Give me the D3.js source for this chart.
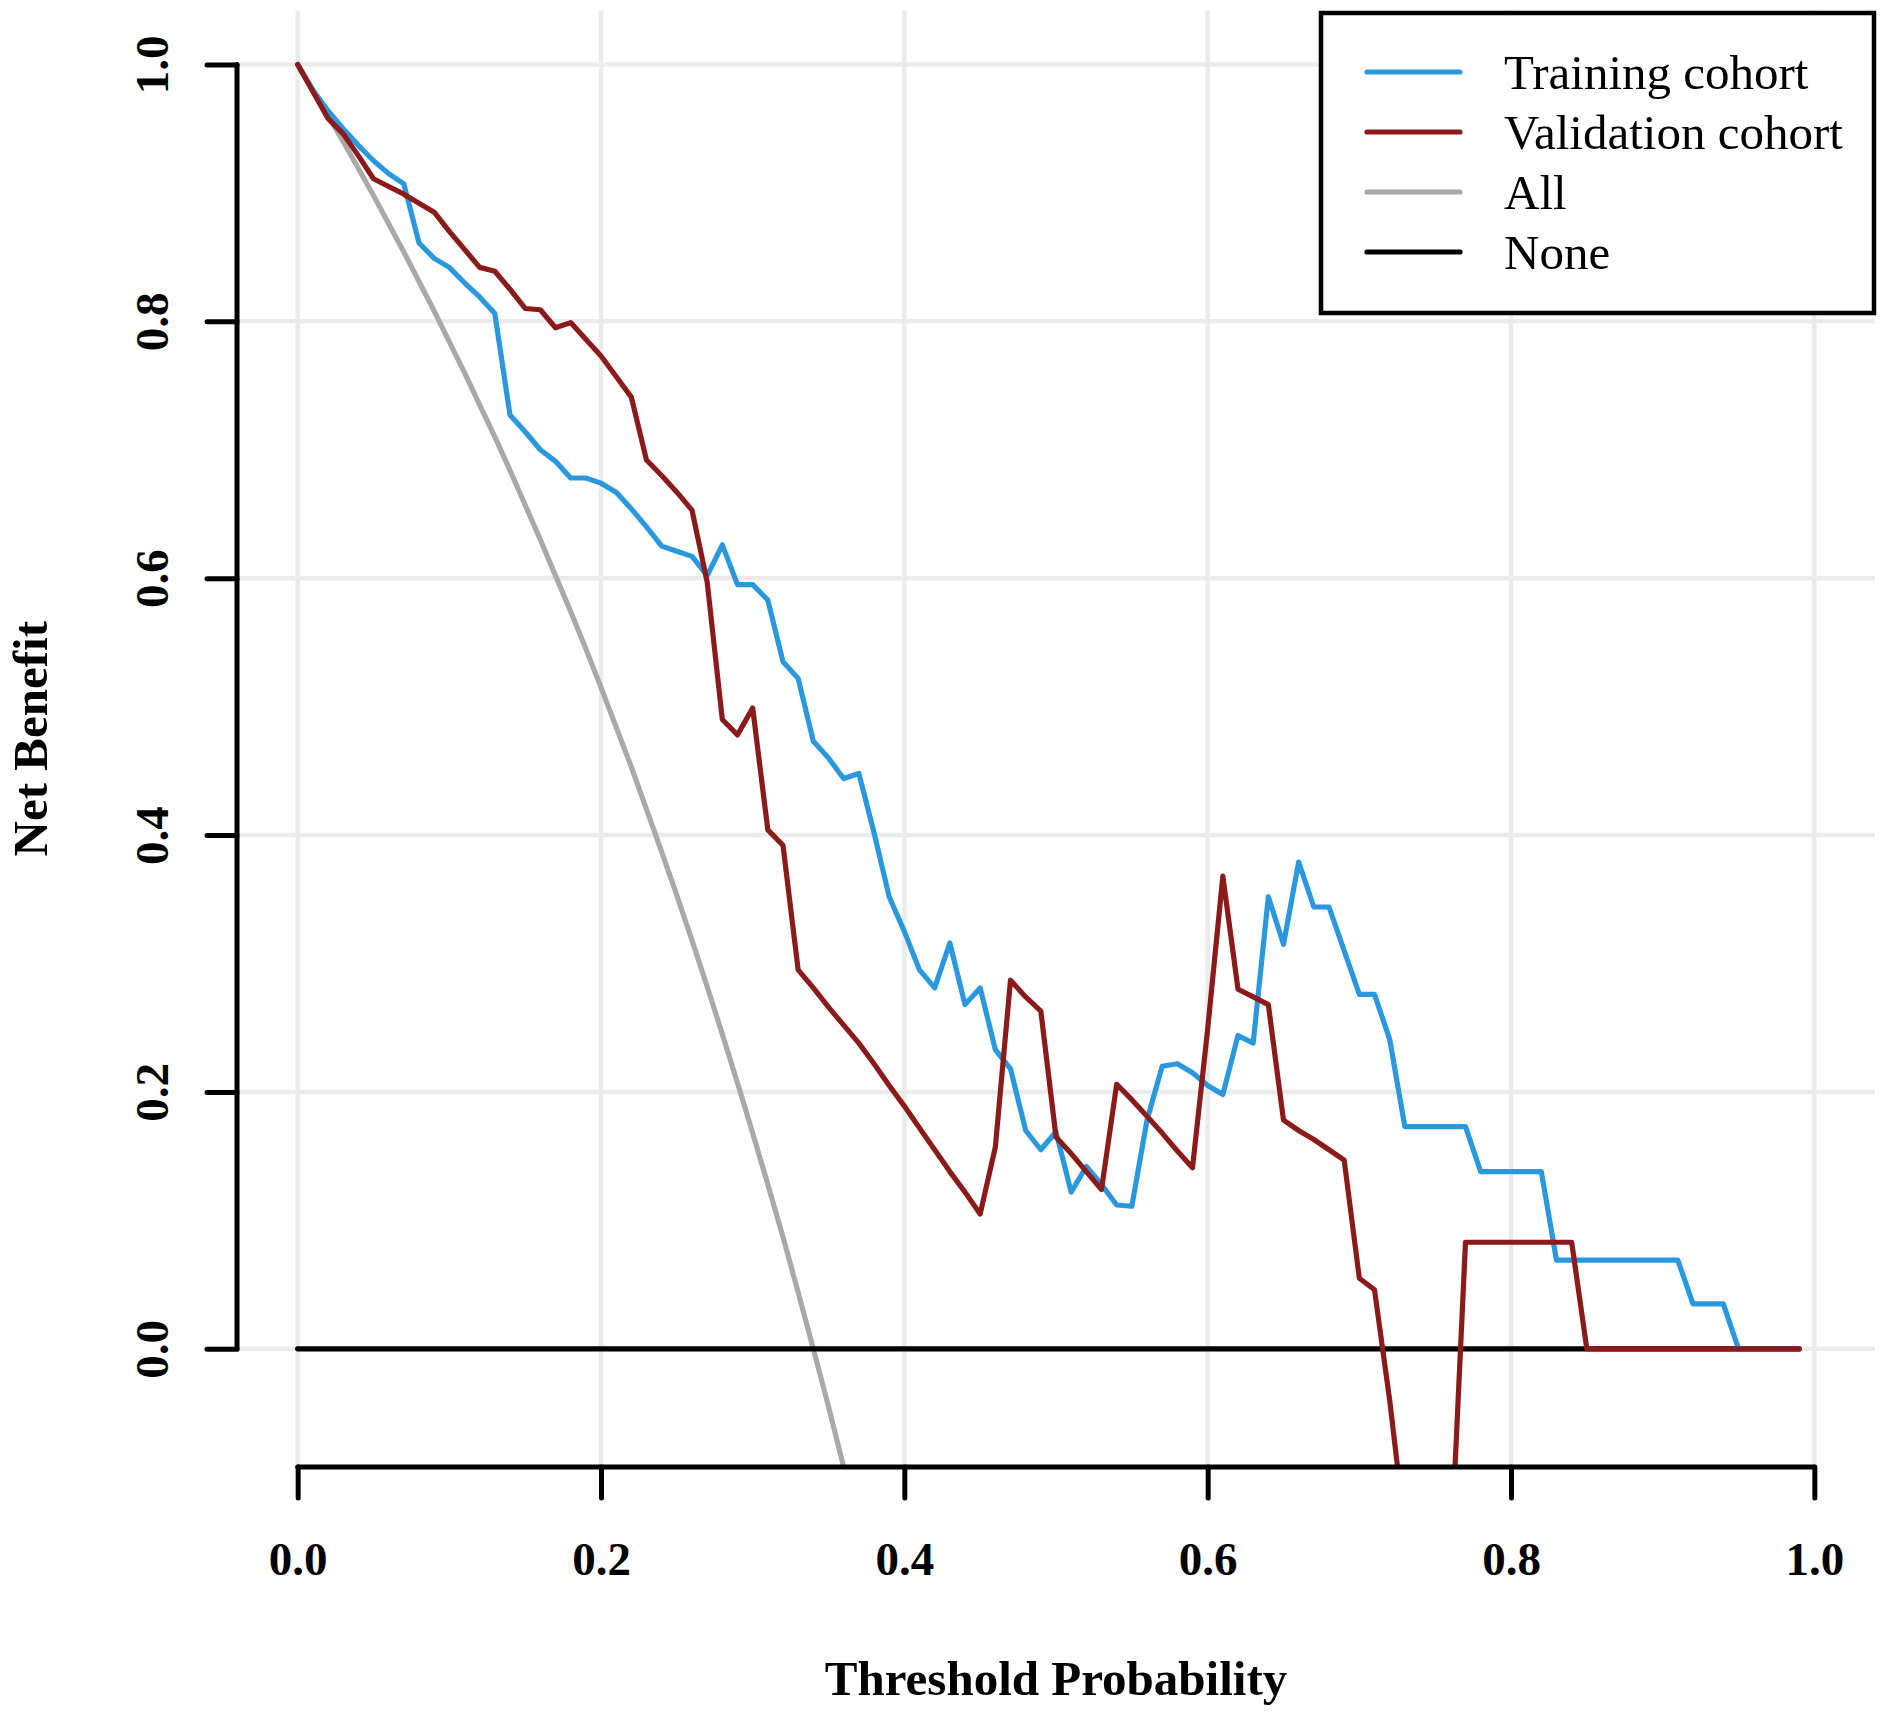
<!DOCTYPE html>
<html>
<head>
<meta charset="utf-8">
<script src="https://cdn.jsdelivr.net/npm/d3@7.9.0/dist/d3.min.js"></script>
<style>
  body { margin: 0; background: #fff; }
  svg { display: block; }
</style>
</head>
<body>
<div id="chart"></div>
<script>
// size of the picture and the plot region (R style, 4% padding around the data range)
const width = 1887;
const height = 1719;
const plotLeft = 237;
const plotRight = 1875;
const plotTop = 10.5;
const plotBottom = 1467;

// threshold probabilities
const thresholds = [
  0.00, 0.01, 0.02, 0.03, 0.04, 0.05, 0.06, 0.07, 0.08, 0.09,
  0.10, 0.11, 0.12, 0.13, 0.14, 0.15, 0.16, 0.17, 0.18, 0.19,
  0.20, 0.21, 0.22, 0.23, 0.24, 0.25, 0.26, 0.27, 0.28, 0.29,
  0.30, 0.31, 0.32, 0.33, 0.34, 0.35, 0.36, 0.37, 0.38, 0.39,
  0.40, 0.41, 0.42, 0.43, 0.44, 0.45, 0.46, 0.47, 0.48, 0.49,
  0.50, 0.51, 0.52, 0.53, 0.54, 0.55, 0.56, 0.57, 0.58, 0.59,
  0.60, 0.61, 0.62, 0.63, 0.64, 0.65, 0.66, 0.67, 0.68, 0.69,
  0.70, 0.71, 0.72, 0.73, 0.74, 0.75, 0.76, 0.77, 0.78, 0.79,
  0.80, 0.81, 0.82, 0.83, 0.84, 0.85, 0.86, 0.87, 0.88, 0.89,
  0.90, 0.91, 0.92, 0.93, 0.94, 0.95, 0.96, 0.97, 0.98, 0.99
];

// net benefit, training cohort
const training = [
  1.000, 0.980, 0.964, 0.950, 0.937, 0.925, 0.915, 0.907, 0.861, 0.849,
  0.842, 0.830, 0.819, 0.806, 0.727, 0.714, 0.700, 0.691, 0.678, 0.678,
  0.674, 0.667, 0.654, 0.640, 0.625, 0.621, 0.617, 0.602, 0.626, 0.595,
  0.595, 0.583, 0.535, 0.522, 0.473, 0.460, 0.444, 0.448, 0.402, 0.352,
  0.325, 0.295, 0.281, 0.316, 0.268, 0.281, 0.233, 0.218, 0.170, 0.155,
  0.169, 0.122, 0.142, 0.128, 0.112, 0.111, 0.178, 0.220, 0.222, 0.215,
  0.205, 0.198, 0.244, 0.238, 0.352, 0.315, 0.379, 0.344, 0.344, 0.310,
  0.276, 0.276, 0.241, 0.173, 0.173, 0.173, 0.173, 0.173, 0.138, 0.138,
  0.138, 0.138, 0.138, 0.069, 0.069, 0.069, 0.069, 0.069, 0.069, 0.069,
  0.069, 0.069, 0.035, 0.035, 0.035, 0.000, 0.000, 0.000, 0.000, 0.000
];

// net benefit, validation cohort
const validation = [
  1.000, 0.979, 0.958, 0.946, 0.929, 0.911, 0.905, 0.899, 0.892, 0.885,
  0.870, 0.856, 0.842, 0.839, 0.825, 0.810, 0.809, 0.795, 0.799, 0.786,
  0.773, 0.757, 0.741, 0.692, 0.680, 0.667, 0.653, 0.597, 0.490, 0.478,
  0.499, 0.404, 0.392, 0.295, 0.281, 0.266, 0.252, 0.238, 0.222, 0.205,
  0.189, 0.172, 0.155, 0.138, 0.122, 0.105, 0.157, 0.287, 0.274, 0.263,
  0.165, 0.152, 0.138, 0.124, 0.206, 0.194, 0.181, 0.168, 0.154, 0.141,
  0.249, 0.368, 0.280, 0.274, 0.268, 0.178, 0.170, 0.163, 0.155, 0.147,
  0.055, 0.046, -0.040, -0.140, -0.200, -0.200, -0.170, 0.083, 0.083, 0.083,
  0.083, 0.083, 0.083, 0.083, 0.083, 0.000, 0.000, 0.000, 0.000, 0.000,
  0.000, 0.000, 0.000, 0.000, 0.000, 0.000, 0.000, 0.000, 0.000, 0.000
];

// treat all (only the part above the bottom of the plot)
const treatAll = [
  1.000, 0.980, 0.960, 0.940, 0.919, 0.898, 0.876, 0.854, 0.831, 0.808,
  0.784, 0.760, 0.735, 0.710, 0.684, 0.657, 0.630, 0.602, 0.574, 0.545,
  0.515, 0.484, 0.453, 0.420, 0.387, 0.353, 0.318, 0.282, 0.245, 0.207,
  0.168, 0.128, 0.087, 0.044, 0.000, -0.045, -0.092, -0.140
];

// treat none
const noneThresholds = [0.00, 0.99];
const treatNone = [0, 0];

const tickValues = [0, 0.2, 0.4, 0.6, 0.8, 1.0];
const tickLabels = ["0.0", "0.2", "0.4", "0.6", "0.8", "1.0"];

const legendNames = ["Training cohort", "Validation cohort", "All", "None"];
const legendColors = ["#2a98de", "#8b1a1a", "#a9a9a9", "#000000"];

const xScale = d3.scaleLinear().domain([-0.04, 1.04]).range([plotLeft, plotRight]);
const yScale = d3.scaleLinear().domain([-0.092, 1.042]).range([plotBottom, plotTop]);

const serif = "'Liberation Serif', 'Times New Roman', serif";
const lineWidth = 5.2;

const svg = d3
  .select("#chart")
  .append("svg")
  .attr("width", width)
  .attr("height", height)
  .style("background", "#fff");

svg
  .append("clipPath")
  .attr("id", "plot-clip")
  .append("rect")
  .attr("x", plotLeft)
  .attr("y", plotTop)
  .attr("width", plotRight - plotLeft)
  .attr("height", plotBottom - plotTop);

// grid
const grid = svg.append("g").attr("class", "grid").attr("stroke", "#ebebeb").attr("stroke-width", 4.5);
grid
  .selectAll("line.v")
  .data(tickValues)
  .join("line")
  .attr("class", "v")
  .attr("x1", (d) => xScale(d))
  .attr("x2", (d) => xScale(d))
  .attr("y1", plotTop)
  .attr("y2", plotBottom);
grid
  .selectAll("line.h")
  .data(tickValues)
  .join("line")
  .attr("class", "h")
  .attr("y1", (d) => yScale(d))
  .attr("y2", (d) => yScale(d))
  .attr("x1", plotLeft)
  .attr("x2", plotRight);

// curves
const lineFor = (xs) =>
  d3
    .line()
    .x((d, i) => xScale(xs[i]))
    .y((d) => yScale(d));

const curves = svg.append("g").attr("clip-path", "url(#plot-clip)");
const series = [
  { values: treatAll, xs: thresholds, color: legendColors[2] },
  { values: treatNone, xs: noneThresholds, color: legendColors[3] },
  { values: training, xs: thresholds, color: legendColors[0] },
  { values: validation, xs: thresholds, color: legendColors[1] },
];
series.forEach((s) => {
  curves
    .append("path")
    .attr("d", lineFor(s.xs)(s.values))
    .attr("fill", "none")
    .attr("stroke", s.color)
    .attr("stroke-width", lineWidth)
    .attr("stroke-linejoin", "round")
    .attr("stroke-linecap", "round");
});

// axes
const xAxis = svg
  .append("g")
  .attr("class", "x-axis")
  .attr("transform", `translate(0,${plotBottom})`)
  .call(
    d3
      .axisBottom(xScale)
      .tickValues(tickValues)
      .tickFormat((d, i) => tickLabels[i])
      .tickSize(31)
      .tickSizeOuter(0)
  );
xAxis.select(".domain").remove();
xAxis
  .append("line")
  .attr("x1", xScale(0))
  .attr("x2", xScale(1))
  .attr("stroke", "#000")
  .attr("stroke-width", 5)
  .attr("stroke-linecap", "round");
xAxis.selectAll(".tick line").attr("stroke-width", 5).attr("stroke-linecap", "round");
xAxis
  .selectAll(".tick text")
  .attr("y", 108)
  .attr("dy", null)
  .attr("fill", "#000")
  .style("font-family", serif)
  .style("font-weight", "bold")
  .style("font-size", "47px");

const yAxis = svg
  .append("g")
  .attr("class", "y-axis")
  .attr("transform", `translate(${plotLeft},0)`)
  .call(
    d3
      .axisLeft(yScale)
      .tickValues(tickValues)
      .tickFormat((d, i) => tickLabels[i])
      .tickSize(30)
      .tickSizeOuter(0)
  );
yAxis.select(".domain").remove();
yAxis
  .append("line")
  .attr("y1", yScale(0))
  .attr("y2", yScale(1))
  .attr("stroke", "#000")
  .attr("stroke-width", 5)
  .attr("stroke-linecap", "round");
yAxis.selectAll(".tick line").attr("stroke-width", 5).attr("stroke-linecap", "round");
yAxis
  .selectAll(".tick text")
  .attr("x", null)
  .attr("dy", null)
  .attr("text-anchor", "middle")
  .attr("transform", "translate(-69,0) rotate(-90)")
  .attr("fill", "#000")
  .style("font-family", serif)
  .style("font-weight", "bold")
  .style("font-size", "47px");

// axis titles
svg
  .append("text")
  .attr("x", (plotLeft + plotRight) / 2)
  .attr("y", 1695)
  .attr("text-anchor", "middle")
  .style("font-family", serif)
  .style("font-weight", "bold")
  .style("font-size", "49px")
  .text("Threshold Probability");

svg
  .append("text")
  .attr("transform", `translate(47,${(plotTop + plotBottom) / 2}) rotate(-90)`)
  .attr("text-anchor", "middle")
  .style("font-family", serif)
  .style("font-weight", "bold")
  .style("font-size", "49px")
  .text("Net Benefit");

// legend
const legend = svg.append("g").attr("class", "legend");
legend
  .append("rect")
  .attr("x", 1321)
  .attr("y", 13)
  .attr("width", 553)
  .attr("height", 300)
  .attr("fill", "#fff")
  .attr("stroke", "#000")
  .attr("stroke-width", 4.5);

const rows = legend
  .selectAll("g.row")
  .data(legendNames)
  .join("g")
  .attr("class", "row")
  .attr("transform", (d, i) => `translate(0,${72 + i * 60})`);
rows
  .append("line")
  .attr("x1", 1367)
  .attr("x2", 1460)
  .attr("stroke", (d, i) => legendColors[i])
  .attr("stroke-width", lineWidth)
  .attr("stroke-linecap", "round");
rows
  .append("text")
  .attr("x", 1504)
  .attr("dy", "0.35em")
  .style("font-family", serif)
  .style("font-size", "49px")
  .text((d) => d);
</script>
</body>
</html>
